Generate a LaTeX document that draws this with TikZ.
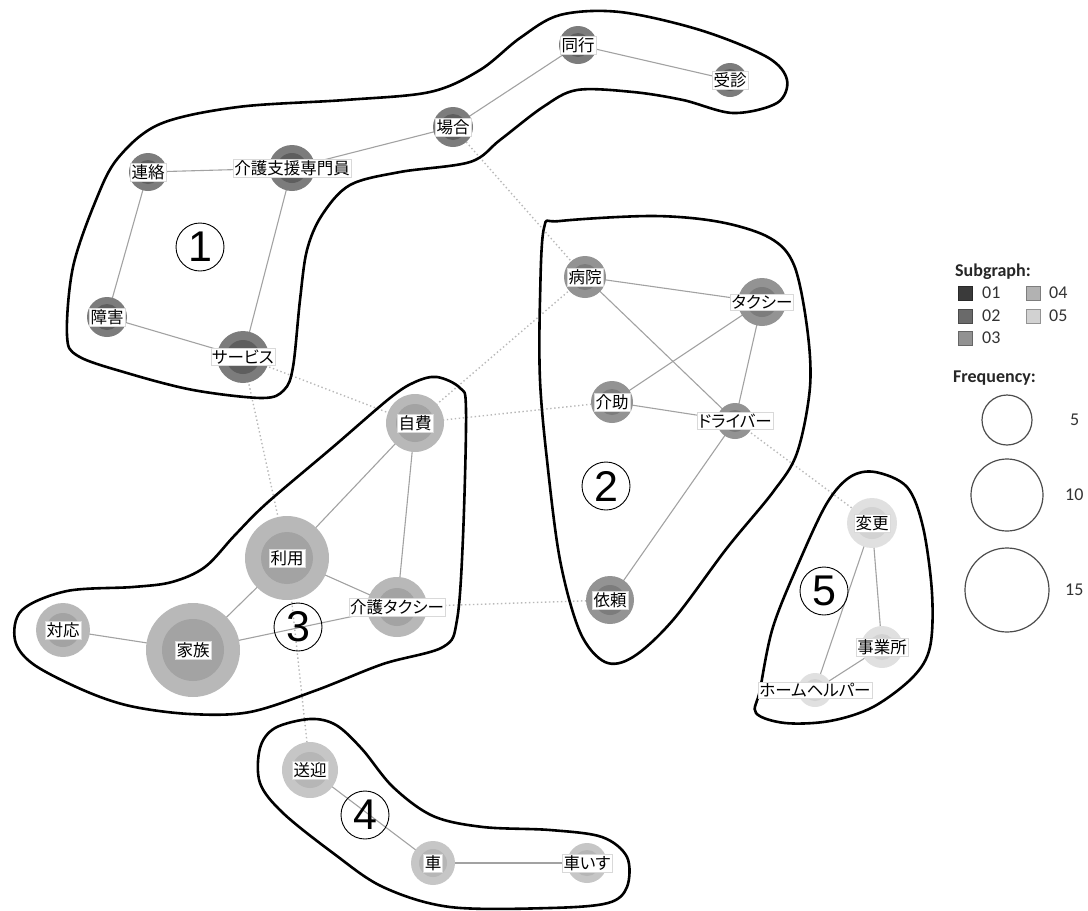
\documentclass[tikz,border=0pt]{standalone}
\usepackage{fontspec}
\newfontfamily\jpfont[RawFeature=+palt]{Noto Sans CJK JP}
\newfontfamily\legfont{Carlito}
\newfontfamily\numfont{Liberation Sans}
\definecolor{s1o}{HTML}{7C7C7C}\definecolor{s1i}{HTML}{5E5E5E}
\definecolor{s2o}{HTML}{939393}\definecolor{s2i}{HTML}{7C7C7C}
\definecolor{s3o}{HTML}{B8B8B8}\definecolor{s3i}{HTML}{A3A3A3}
\definecolor{s4o}{HTML}{C6C6C6}\definecolor{s4i}{HTML}{B6B6B6}
\definecolor{s5o}{HTML}{E0E0E0}\definecolor{s5i}{HTML}{D2D2D2}
\definecolor{c01}{HTML}{3A3A3A}\definecolor{c02}{HTML}{6A6A6A}
\definecolor{c03}{HTML}{929292}\definecolor{c04}{HTML}{B2B2B2}
\definecolor{c05}{HTML}{D2D2D2}
\definecolor{edgec}{HTML}{A2A2A2}\definecolor{xedgec}{HTML}{B8B8B8}
\pgfdeclarelayer{bg}\pgfsetlayers{bg,main}
\tikzset{
  blob/.style={draw=black, line width=2.6pt, line join=round},
  edge/.style={draw=edgec, line width=1.1pt},
  xedge/.style={draw=xedgec, line width=1.4pt, dash pattern=on 1.4pt off 2.6pt},
  lbl/.style={fill=white, draw=black!15, line width=0.4pt, inner sep=1.2pt, font=\jpfont\fontsize{16.5}{19}\selectfont, text=black},
  num/.style={circle, draw=black, line width=0.9pt, minimum size=48pt, inner sep=0pt, font=\numfont\fontsize{43}{43}\selectfont},
  sq/.style={minimum size=14pt, inner sep=0pt, line width=0.9pt},
  legtxt/.style={anchor=west, inner sep=0pt, font=\legfont\fontsize{18}{20}\selectfont, text=black!80},
  leghead/.style={anchor=west, inner sep=0pt, font=\legfont\bfseries\fontsize{18}{20}\selectfont, text=black!85},
  freq/.style={circle, draw=black!70, line width=1.2pt, inner sep=0pt},
}
\newcommand{\kw}[7]{%
  \node[circle, fill=#6o, minimum size=#4*2pt, inner sep=0pt] (#1) at (#2,#3) {};
  \node[circle, fill=#6i, minimum size=#5*2pt, inner sep=0pt] (#1-in) at (#2,#3) {};
  \node[lbl] (#1-l) at (#2,#3) {#7};}
\begin{document}
\begin{tikzpicture}[x=1pt,y=-1pt]
\useasboundingbox (0,0) rectangle (1088,911);
% blobs
\draw[blob] plot[smooth cycle, tension=0.55] coordinates {
 (73,267) (96,200) (118,158) (160,124) (238,107) (345,100) (430,92) (480,70)
 (520,38) (560,15) (620,12) (700,30) (767,57) (787,80) (777,103) (733,113)
 (683,100) (633,92) (577,90) (543,107) (500,140) (470,162) (400,172) (350,185)
 (322,215) (307,250) (300,300) (293,367) (284,390) (262,398) (193,390) (127,373)
 (78,356) (67,335)};
\draw[blob] plot[smooth cycle, tension=0.55] coordinates {
 (544,228) (560,221) (653,216) (720,222) (770,238) (794,265) (807,327) (810,387)
 (797,453) (773,492) (727,548) (673,620) (633,657) (605,662) (580,632) (560,560)
 (547,460) (540,380) (540,300)};
\draw[blob] plot[smooth cycle, tension=0.55] coordinates {
 (437,377) (460,388) (466,410) (463,537) (457,620) (443,647) (383,664) (317,690)
 (250,712) (190,714) (130,706) (83,690) (33,664) (15,640) (22,610) (67,591)
 (133,587) (172,582) (205,567) (235,535) (267,503) (333,447) (390,398) (415,382)};
\draw[blob] plot[smooth cycle, tension=0.55] coordinates {
 (260,748) (275,728) (310,719) (336,725) (362,749) (393,787) (433,816) (483,827)
 (550,830) (602,837) (627,857) (627,887) (608,903) (550,908) (450,907) (383,887)
 (333,853) (283,813) (260,783)};
\draw[blob] plot[smooth cycle, tension=0.55] coordinates {
 (850,477) (875,472) (907,487) (923,527) (932,593) (930,647) (913,677) (873,707)
 (830,721) (785,723) (756,713) (760,690) (773,627) (800,560) (827,503)};
% keyword nodes
\kw{doko}{578}{45}{19}{12}{s1}{同行}
\kw{jushin}{730}{80}{17}{11}{s1}{受診}
\kw{baai}{453}{127}{20}{13}{s1}{場合}
\kw{renraku}{148}{172}{19}{12}{s1}{連絡}
\kw{kaigoshien}{292}{168}{23}{15}{s1}{介護支援専門員}
\kw{shogai}{107}{317}{20}{13}{s1}{障害}
\kw{service}{243}{357}{26}{17}{s1}{サービス}
\kw{byoin}{585}{277}{21}{13}{s2}{病院}
\kw{taxi}{762}{302}{24}{15}{s2}{タクシー}
\kw{kaijo}{612}{402}{21}{13}{s2}{介助}
\kw{driver}{735}{421}{18}{11}{s2}{ドライバー}
\kw{irai}{610}{600}{24}{15}{s2}{依頼}
\kw{jihi}{415}{423}{29}{19}{s3}{自費}
\kw{riyo}{287}{558}{42}{26}{s3}{利用}
\kw{kaigotaxi}{397}{607}{30}{19}{s3}{介護タクシー}
\kw{taio}{63}{630}{27}{17}{s3}{対応}
\kw{kazoku}{193}{650}{47}{31}{s3}{家族}
\kw{sogei}{310}{770}{28}{18}{s4}{送迎}
\kw{kuruma}{433}{863}{22}{14}{s4}{車}
\kw{kurumaisu}{587}{863}{20}{13}{s4}{車いす}
\kw{henko}{872}{523}{25}{16}{s5}{変更}
\kw{jigyosho}{882}{647}{21}{13}{s5}{事業所}
\kw{homehelper}{815}{690}{17}{11}{s5}{ホームヘルパー}
% edges
\begin{pgfonlayer}{bg}
\foreach \a/\b in {doko/jushin, doko/baai, baai/kaigoshien, renraku/kaigoshien,
  renraku/shogai, shogai/service, kaigoshien/service,
  byoin/taxi, byoin/driver, taxi/kaijo, taxi/driver, kaijo/driver, driver/irai,
  jihi/riyo, jihi/kaigotaxi, riyo/kaigotaxi, riyo/kazoku, kazoku/taio, kazoku/kaigotaxi,
  sogei/kuruma, kuruma/kurumaisu,
  henko/jigyosho, henko/homehelper, jigyosho/homehelper}
  \draw[edge] (\a.center) -- (\b.center);
\foreach \a/\b in {baai/byoin, service/jihi, service/riyo, jihi/byoin, jihi/kaijo,
  kaigotaxi/irai, driver/henko, riyo/sogei}
  \draw[xedge] (\a.center) -- (\b.center);
\end{pgfonlayer}
% subgraph numbers
\node[num] (n1) at (200,247) {1};
\node[num] (n2) at (606,486) {2};
\node[num] (n3) at (298,627) {3};
\node[num] (n4) at (365,815) {4};
\node[num] (n5) at (824,591) {5};
% legend
\node[leghead] (lgs) at (955,272) {Subgraph:};
\node[sq, fill=c01, draw=c01!70!black] (q1) at (965,293) {};
\node[sq, fill=c02, draw=c02!70!black] (q2) at (965,316) {};
\node[sq, fill=c03, draw=c03!70!black] (q3) at (965,338) {};
\node[sq, fill=c04, draw=c04!70!black] (q4) at (1033,293) {};
\node[sq, fill=c05, draw=c05!70!black] (q5) at (1033,316) {};
\node[legtxt] (t1) at (982,293) {01};
\node[legtxt] (t2) at (982,316) {02};
\node[legtxt] (t3) at (982,338) {03};
\node[legtxt] (t4) at (1049,293) {04};
\node[legtxt] (t5) at (1049,316) {05};
\node[leghead] (lgf) at (953,378) {Frequency:};
\node[freq, minimum size=50pt] (f5) at (1007,420) {};
\node[freq, minimum size=72pt] (f10) at (1007,495) {};
\node[freq, minimum size=84pt] (f15) at (1007,590) {};
\node[legtxt] (tf5) at (1070,420) {5};
\node[legtxt] (tf10) at (1065,495) {10};
\node[legtxt] (tf15) at (1065,590) {15};
\end{tikzpicture}
\end{document}
